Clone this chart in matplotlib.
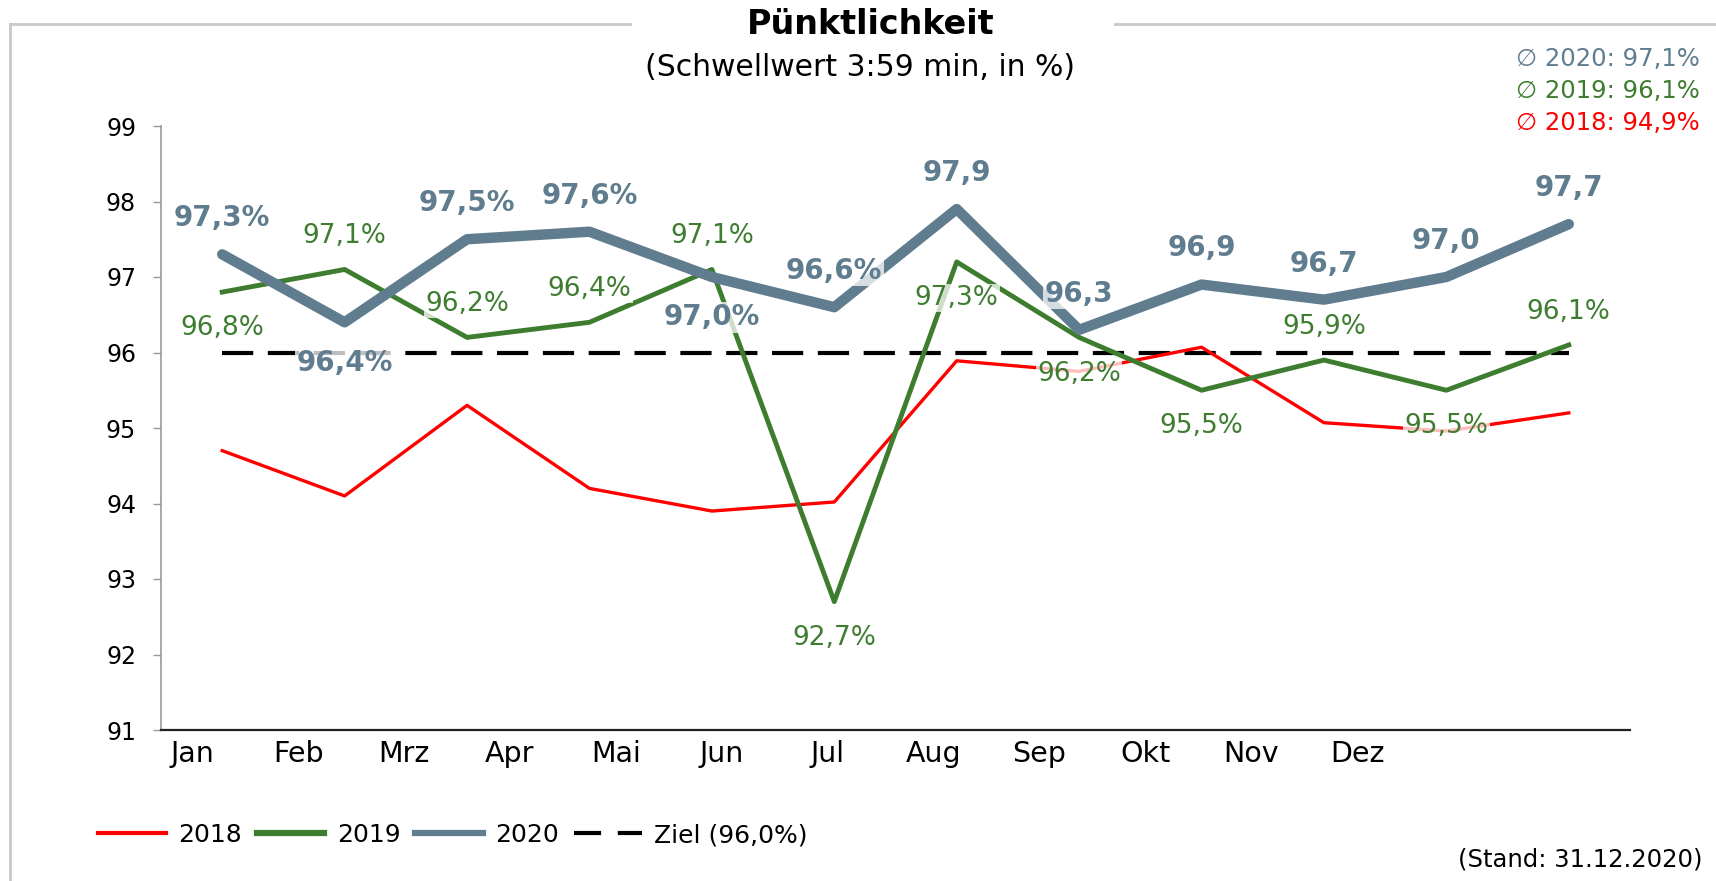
import numpy as np
import matplotlib
matplotlib.use('Agg')
import matplotlib.pyplot as plt
from matplotlib.lines import Line2D

# ---------- data ----------
months = ['Jan', 'Feb', 'Mrz', 'Apr', 'Mai', 'Jun', 'Jul', 'Aug', 'Sep', 'Okt', 'Nov', 'Dez']
v2018 = [94.7, 94.1, 95.3, 94.2, 93.9, 94.02, 95.89, 95.75, 96.07, 95.07, 94.96, 95.2]
v2019 = [96.8, 97.1, 96.2, 96.4, 97.1, 92.7, 97.2, 96.2, 95.5, 95.9, 95.5, 96.1]
v2020 = [97.3, 96.4, 97.5, 97.6, 97.0, 96.6, 97.9, 96.3, 96.9, 96.7, 97.0, 97.7]
ziel = [96.0] * 12
lbl2019 = ['96,8%', '97,1%', '96,2%', '96,4%', '97,1%', '92,7%',
           '97,3%', '96,2%', '95,5%', '95,9%', '95,5%', '96,1%']
lbl2020 = ['97,3%', '96,4%', '97,5%', '97,6%', '97,0%', '96,6%',
           '97,9', '96,3', '96,9', '96,7', '97,0', '97,7']
avg_lines = ['\u2205 2020: 97,1%', '\u2205 2019: 96,1%', '\u2205 2018: 94,9%']

# ---------- style ----------
C18, C19, C20 = '#ff0000', '#3e7d30', '#607c8f'
plt.rcParams['font.family'] = ['DejaVu Sans']

W, H = 1716, 881
fig = plt.figure(figsize=(W / 100, H / 100), dpi=100)
ax = fig.add_axes([161 / W, 1 - 730 / H, (1630 - 161) / W, (730 - 126) / H])

x = np.arange(len(months))
ax.plot(x, ziel, color='black', lw=3, dashes=(7.5, 3.5), zorder=2)
ax.plot(x, v2018, color=C18, lw=2.4, zorder=3)
ax.plot(x, v2019, color=C19, lw=3.5, zorder=4)
ax.plot(x, v2020, color=C20, lw=7.5, solid_capstyle='round', solid_joinstyle='round', zorder=5)

box = dict(boxstyle='square,pad=0.05', fc='white', ec='none', alpha=0.75)

pos19 = ['b', 'a', 'a', 'a', 'a', 'b', 'b', 'b', 'b', 'a', 'b', 'a']
for i, (v, t, p) in enumerate(zip(v2019, lbl2019, pos19)):
    dy = 24 if p == 'a' else -26
    ax.annotate(t, (i, v), xytext=(0, dy), textcoords='offset points',
                ha='center', va='center', color=C19, fontsize=19, bbox=box, zorder=6)

pos20 = ['a', 'b', 'a', 'a', 'b', 'a', 'a', 'a', 'a', 'a', 'a', 'a']
for i, (v, t, p) in enumerate(zip(v2020, lbl2020, pos20)):
    dy = 26 if p == 'a' else -29
    ax.annotate(t, (i, v), xytext=(0, dy), textcoords='offset points',
                ha='center', va='center', color=C20, fontsize=20, fontweight='bold',
                bbox=box, zorder=7)

ax.set_xlim(-0.5, 11.5)
ax.set_ylim(91, 99)
ax.set_yticks(range(91, 100))
ax.set_xticks(np.linspace(-0.245, 9.27, 12))
ax.set_xticklabels(months)
ax.tick_params(axis='y', length=6, width=1, color='#999999', pad=12, labelsize=17)
ax.tick_params(axis='x', length=0, pad=7, labelsize=20.5)
for s in ('top', 'right'):
    ax.spines[s].set_visible(False)
ax.spines['left'].set_color('#999999')
ax.spines['left'].set_linewidth(1.2)
ax.spines['bottom'].set_color('#222222')
ax.spines['bottom'].set_linewidth(1.6)

# titles
fig.text(871 / W, 1 - 25 / H, 'Pünktlichkeit', ha='center', va='center',
         fontsize=24, fontweight='bold')
fig.text(860 / W, 1 - 68 / H, '(Schwellwert 3:59 min, in %)', ha='center', va='center',
         fontsize=21.5)

# averages top right
for yy, t, c in zip([59, 91, 123], avg_lines, [C20, C19, C18]):
    fig.text(1700 / W, 1 - yy / H, t, ha='right', va='center', fontsize=17.5, color=c)

fig.text(1703 / W, 1 - 860 / H, '(Stand: 31.12.2020)', ha='right', va='center', fontsize=17.5)

# frame lines
fc = '#c8c8c8'
fig.add_artist(Line2D([10 / W, 630 / W], [1 - 24 / H] * 2, color=fc, lw=2))
fig.add_artist(Line2D([1115 / W, 1], [1 - 24 / H] * 2, color=fc, lw=2))
fig.add_artist(Line2D([10 / W] * 2, [1 - 24 / H, 0], color=fc, lw=2))

# legend
handles = [Line2D([], [], color=C18, lw=3),
           Line2D([], [], color=C19, lw=4.5),
           Line2D([], [], color=C20, lw=4.5),
           Line2D([], [], color='black', lw=3, dashes=(6.5, 4))]
fig.legend(handles, ['2018', '2019', '2020', 'Ziel (96,0%)'], ncol=4, frameon=False,
           loc='center left', bbox_to_anchor=(98 / W, 1 - 835 / H),
           fontsize=18, handlelength=2.7, handletextpad=0.5, columnspacing=0.6,
           borderpad=0, borderaxespad=0)

fig.savefig('out.png', dpi=100)
